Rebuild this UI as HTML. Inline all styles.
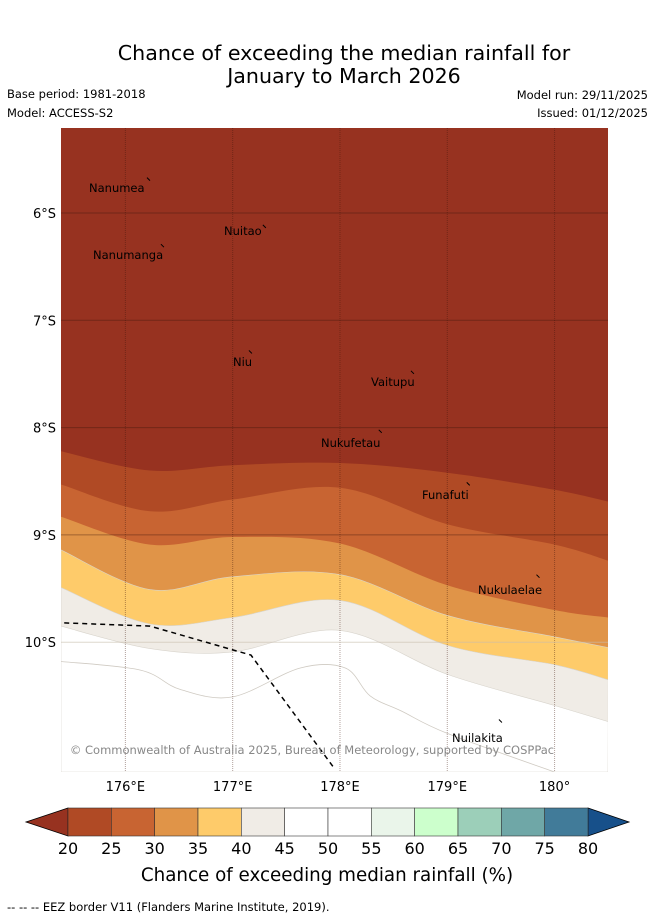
<!DOCTYPE html>
<html><head><meta charset="utf-8">
<style>
body{margin:0;background:#fff;font-family:"Liberation Sans","DejaVu Sans",sans-serif;}
#wrap{position:relative;width:655px;height:919px;overflow:hidden;}
</style></head>
<body>
<div id="wrap">
<svg id="svg" width="655" height="919" xmlns="http://www.w3.org/2000/svg" font-family="DejaVu Sans, Liberation Sans, sans-serif">
<text x="344" y="60" font-size="20.6" text-anchor="middle">Chance of exceeding the median rainfall for</text>
<text x="344" y="83" font-size="20.6" text-anchor="middle">January to March 2026</text>
<text x="7" y="98" font-size="11.5">Base period: 1981-2018</text>
<text x="7" y="117" font-size="11.5">Model: ACCESS-S2</text>
<text x="648" y="99" font-size="11.5" text-anchor="end">Model run: 29/11/2025</text>
<text x="648" y="117" font-size="11.5" text-anchor="end">Issued: 01/12/2025</text>
<g id="map"></g>
<g id="cbar"></g>
<text x="327" y="881" font-size="18.3" text-anchor="middle">Chance of exceeding median rainfall (%)</text>
<text x="7" y="911" font-size="11.5">--  --  -- EEZ border V11 (Flanders Marine Institute, 2019).</text>
</svg>
</div>
<script>
const lons=[175.4,176.23,177,178,179,180,180.5];
const bound25=[8.22,8.40,8.35,8.33,8.42,8.58,8.69];
const bound30=[8.53,8.78,8.67,8.56,8.90,9.09,9.24];
const bound35=[8.83,9.09,9.02,9.08,9.47,9.70,9.77];
const bound40=[9.14,9.51,9.39,9.37,9.75,9.95,10.05];
const bound45=[9.49,9.83,9.77,9.61,10.03,10.21,10.35];
const bound50=[9.85,10.06,10.09,9.89,10.30,10.59,10.74];
const bandColors=['#b04a25','#c86432','#e09448','#fecb6a','#f0ece6'];
const lonTicks=[176,177,178,179,180];
const lonLabels=['176°E','177°E','178°E','179°E','180°'];
const latTicks=[6,7,8,9,10];
const latLabels=['6°S','7°S','8°S','9°S','10°S'];
const cbLevels=[20,25,30,35,40,45,50,55,60,65,70,75,80];
const cbColors=['#b04a25','#c86432','#e09448','#fecb6a','#f0ece6','#ffffff','#ffffff','#eaf5ea','#ccffcc','#9ccfb9','#6fa7a7','#417b99'];
const islands=[['Nanumea',176.22,5.68,89,192],['Nuitao',177.3,6.12,224,235],['Nanumanga',176.35,6.3,93,259],['Niu',177.17,7.29,233,366],['Vaitupu',178.68,7.48,371,386],['Nukufetau',178.38,8.03,321,447],['Funafuti',179.2,8.52,422,499],['Nukulaelae',179.85,9.38,478,594],['Nuilakita',179.5,10.73,452,742]];
const eezLon=[175.43,176.23,177.17,177.95];
const eezLat=[9.82,9.85,10.12,11.18];
const fineLon=[175.4,176.14,176.51,177,177.63,178.05,178.28,178.57,179,180];
const fineLat=[10.18,10.26,10.44,10.51,10.24,10.24,10.5,10.64,10.85,11.21];

const X=l=>61+(l-175.4)*107.3;
const Y=l=>213+(l-6)*107.3;
const NS='http://www.w3.org/2000/svg';
function mk(p,t,a){const e=document.createElementNS(NS,t);for(const k in a)e.setAttribute(k,a[k]);p.appendChild(e);return e;}
function smooth(xs,ys){
  const P=xs.map((x,i)=>[X(x),Y(ys[i])]);
  let d='M'+P[0][0].toFixed(1)+','+P[0][1].toFixed(1);
  for(let i=0;i<P.length-1;i++){
    const p0=P[Math.max(0,i-1)],p1=P[i],p2=P[i+1],p3=P[Math.min(P.length-1,i+2)];
    const c1=[p1[0]+(p2[0]-p0[0])/6,p1[1]+(p2[1]-p0[1])/6];
    const c2=[p2[0]-(p3[0]-p1[0])/6,p2[1]-(p3[1]-p1[1])/6];
    d+=` C${c1[0].toFixed(1)},${c1[1].toFixed(1)} ${c2[0].toFixed(1)},${c2[1].toFixed(1)} ${p2[0].toFixed(1)},${p2[1].toFixed(1)}`;
  }
  return d;
}
const map=document.getElementById('map');
const cp=mk(map,'clipPath',{id:'clip'});mk(cp,'rect',{x:61,y:128,width:547,height:644});
const g=mk(map,'g',{'clip-path':'url(#clip)'});
const bg=mk(g,'rect',{x:61,y:128,width:547,height:644,fill:'#973220'});


const bounds=[bound25,bound30,bound35,bound40,bound45,bound50];
const fills=bandColors.concat(['#ffffff']);
bounds.forEach((b,i)=>{
  const p=mk(g,'path',{d:smooth(lons,b)+' L608,772 L61,772 Z',fill:fills[i],stroke:i>=3?'#d8d4cc':'none','stroke-width':0.6});
  
  
});
const fl=mk(g,'path',{d:smooth(fineLon,fineLat),fill:'none',stroke:'#cfcac2','stroke-width':0.8});


lonTicks.forEach((t,i)=>{
  const l=mk(g,'line',{x1:X(t),x2:X(t),y1:128,y2:772,stroke:'rgba(60,20,10,0.4)','stroke-width':1,'stroke-dasharray':'1,1'});
  
  
  const tx=mk(map,'text',{x:X(t),y:791,'font-size':13,'text-anchor':'middle'});tx.textContent=lonLabels[i];
  
  
});
latTicks.forEach((t,i)=>{
  const l=mk(g,'line',{x1:61,x2:608,y1:Y(t),y2:Y(t),stroke:t>=10?'rgba(200,190,175,0.6)':'rgba(60,20,10,0.4)','stroke-width':1});
  
  
  const tx=mk(map,'text',{x:56,y:Y(t)+5,'font-size':13,'text-anchor':'end'});tx.textContent=latLabels[i];
  
  
});
const ez=mk(g,'polyline',{points:eezLon.map((l,i)=>X(l)+','+Y(eezLat[i])).join(' '),fill:'none',stroke:'#000','stroke-width':1.5,'stroke-dasharray':'5,4'});


islands.forEach(s=>{
  const m=mk(g,'line',{x1:X(s[1])-2,y1:Y(s[2])-1,x2:X(s[1])+1,y2:Y(s[2])+2,stroke:'#000','stroke-width':1});
  
  
  const t=mk(g,'text',{x:s[3],y:s[4],'font-size':11.5});t.textContent=s[0];
  
  
});
const cr=mk(g,'text',{x:312,y:754,'font-size':11.5,'text-anchor':'middle',fill:'#888'});
cr.textContent='© Commonwealth of Australia 2025, Bureau of Meteorology, supported by COSPPac';



const cb=document.getElementById('cbar');
const cx0=68,cx1=588,cy0=808,cy1=836,w=(cx1-cx0)/cbColors.length;
const la=mk(cb,'polygon',{points:`${cx0},${cy0} 26,822 ${cx0},${cy1}`,fill:'#973220',stroke:'#000','stroke-width':0.8});


const ra=mk(cb,'polygon',{points:`${cx1},${cy0} 629,822 ${cx1},${cy1}`,fill:'#17508a',stroke:'#000','stroke-width':0.8});


cbColors.forEach((c,i)=>{
  const r=mk(cb,'rect',{x:cx0+i*w,y:cy0,width:w,height:cy1-cy0,fill:c,stroke:'#333','stroke-width':0.6});
  
  
});
cbLevels.forEach((v,i)=>{
  const t=mk(cb,'text',{x:cx0+i*w,y:854,'font-size':16,'text-anchor':'middle'});t.textContent=v;
  
  
});
</script>
</body></html>
